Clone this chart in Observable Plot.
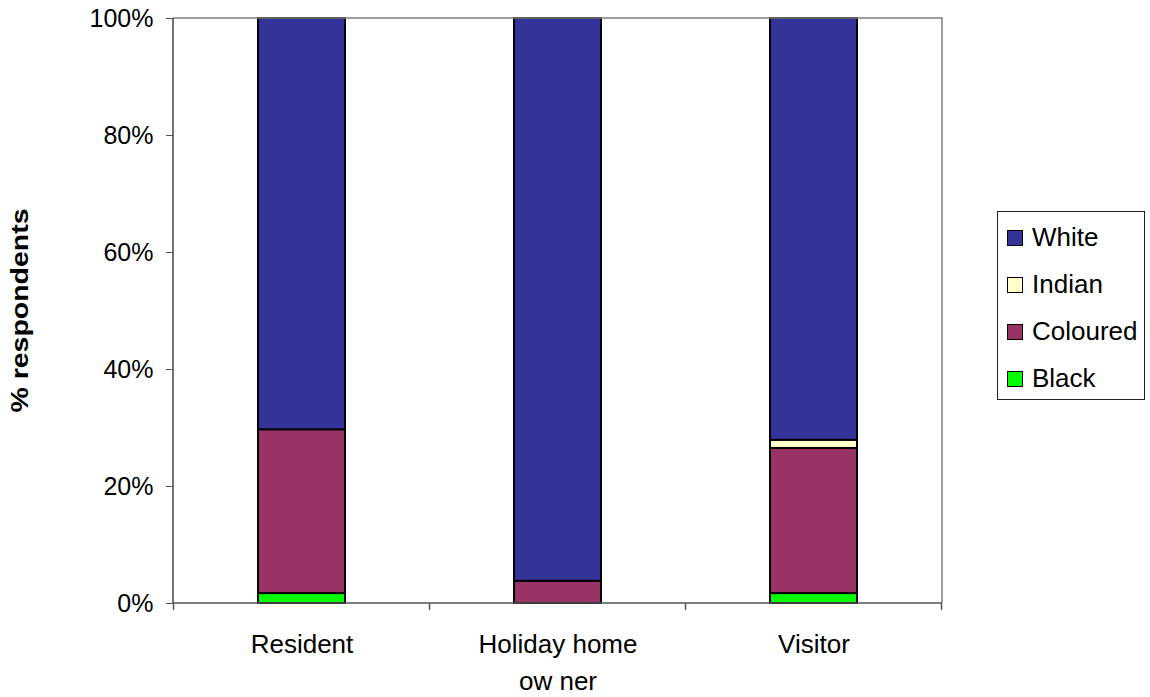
<!DOCTYPE html>
<html>
<head>
<meta charset="utf-8">
<script src="https://cdn.jsdelivr.net/npm/d3@7"></script>
<script src="https://cdn.jsdelivr.net/npm/@observablehq/plot@0.6"></script>
<style>
  html, body { margin: 0; padding: 0; background: #fff; }
  body { font-family: "Liberation Sans", Arial, sans-serif; color: #000; }
  #chart { position: relative; width: 1150px; height: 697px; overflow: hidden; }
  #chart svg { position: absolute; left: 0; top: 0; }
  .legend {
    position: absolute; left: 997px; top: 211px; width: 148px; height: 189px;
    box-sizing: border-box; border: 1px solid #222; background: #fff;
    padding-top: 2px;
  }
  .legend .row { display: flex; align-items: center; height: 47px; padding-left: 9px; font-size: 26px; }
  .legend .sw { width: 14px; height: 14px; border: 1.5px solid #000; margin-right: 9px; flex: none; }
</style>
</head>
<body>
<div id="chart"></div>
<script>
// Respondent groups (x categories) and how each label wraps
const groups = ["Resident", "Holiday home owner", "Visitor"];
const groupLabels = ["Resident", "Holiday home\now ner", "Visitor"];

// Population groups, listed bottom-to-top in the stack, with their fills
const races = ["Black", "Coloured", "Indian", "White"];
const colours = ["#00FF00", "#993366", "#FFFFCC", "#333399"];

// Share of respondents (%) per group, one array per population group
const black    = [1.7, 0.0, 1.7];
const coloured = [28.0, 3.8, 24.8];
const indian   = [0.0, 0.0, 1.4];
const white    = [70.3, 96.2, 72.1];

const yTicks = [0, 20, 40, 60, 80, 100];

const series = [black, coloured, indian, white];
const rows = [];
groups.forEach((g, i) => {
  races.forEach((r, j) => {
    if (series[j][i] > 0) rows.push({group: g, race: r, value: series[j][i]});
  });
});

const plot = Plot.plot({
  width: 1150,
  height: 697,
  marginLeft: 173,
  marginRight: 208,
  marginTop: 18,
  marginBottom: 94,
  style: {fontFamily: "'Liberation Sans', Arial, sans-serif", fontSize: "25px", color: "#000", background: "#fff"},
  x: {domain: groups, paddingInner: 0.66, paddingOuter: 0.33, axis: null},
  y: {domain: [0, 100], axis: null},
  color: {domain: races, range: colours},
  marks: [
    Plot.barY(rows, {x: "group", y: "value", fill: "race", stroke: "#000", strokeWidth: 2}),
    Plot.axisY({ticks: yTicks, tickFormat: d => d + "%", tickSize: 7, tickPadding: 13, fontSize: 25, label: null, stroke: "#555"}),
    Plot.text(groups, {
      x: d => d,
      text: (d, i) => groupLabels[i],
      frameAnchor: "bottom",
      lineAnchor: "top",
      dy: 23,
      lineHeight: 1.42,
      fontSize: 26
    })
  ]
});

document.getElementById("chart").appendChild(plot);

// Plot-area border, axis lines and category-boundary ticks, placed from the scales
const sx = plot.scale("x");
const sy = plot.scale("y");
const [x0, x1] = sx.range;
const yb = sy.apply(0), yt = sy.apply(100);
const svg = d3.select(plot);
const g = svg.append("g").attr("fill", "none");
g.append("path").attr("stroke", "#808080").attr("stroke-width", 1.5)
  .attr("d", `M${x0},${yt}H${x1}V${yb}`);
g.append("line").attr("stroke", "#444").attr("stroke-width", 1.5)
  .attr("x1", x0).attr("x2", x0).attr("y1", yt).attr("y2", yb);
g.append("line").attr("stroke", "#555").attr("stroke-width", 1.5)
  .attr("x1", x0).attr("x2", x1).attr("y1", yb).attr("y2", yb);
const bounds = groups.map(d => sx.apply(d) - (sx.step - sx.bandwidth) / 2);
bounds.push(bounds[bounds.length - 1] + sx.step);
bounds.forEach(bx => {
  g.append("line").attr("stroke", "#555").attr("stroke-width", 1.5)
    .attr("x1", bx).attr("x2", bx).attr("y1", yb).attr("y2", yb + 7);
});

// Rotated y-axis title
svg.append("text")
  .attr("transform", `translate(22,${(yt + yb) / 2}) rotate(-90)`)
  .attr("text-anchor", "middle")
  .attr("dominant-baseline", "middle")
  .attr("font-weight", "bold")
  .attr("font-size", 23)
  .attr("textLength", 204)
  .attr("lengthAdjust", "spacingAndGlyphs")
  .attr("fill", "#000")
  .text("% respondents");

// Legend: top of the stack first
const legend = d3.select("#chart").append("div").attr("class", "legend");
races.slice().reverse().forEach(r => {
  const row = legend.append("div").attr("class", "row");
  row.append("div").attr("class", "sw").style("background", colours[races.indexOf(r)]);
  row.append("span").text(r);
});
</script>
</body>
</html>
